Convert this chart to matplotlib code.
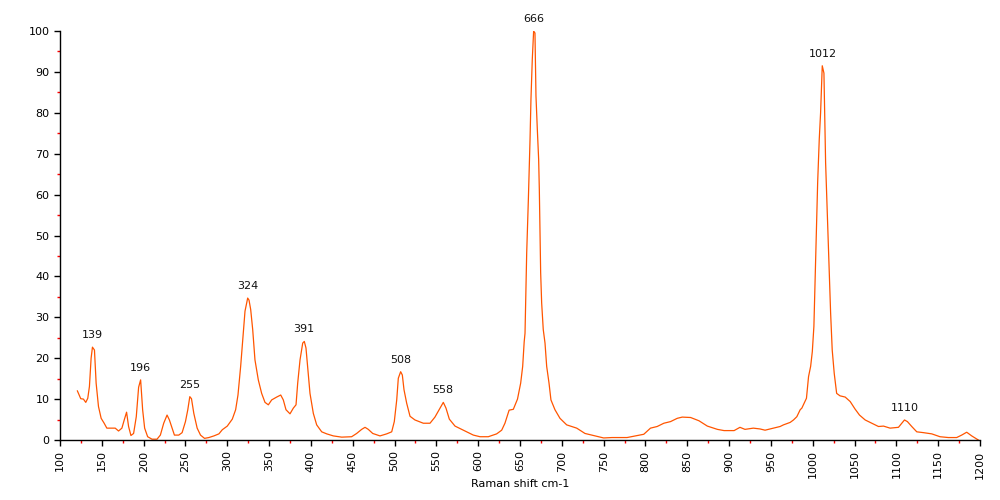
import matplotlib
matplotlib.use('Agg')
import matplotlib.pyplot as plt
import numpy as np
from matplotlib.ticker import MultipleLocator

# Raman spectrum (x: cm-1, y: normalised intensity)
shift = [120.8, 124.8, 128, 130.8, 133.2, 135.2, 137.2, 138.8, 141.2, 143.2,
         146, 149.2, 152.8, 156, 162, 166, 170, 174, 176.8, 179.6,
         182, 184.8, 188, 191.2, 194, 196.4, 198.8, 201.2, 204.8, 210,
         216, 220, 224, 228, 230.8, 234, 236.8, 242, 246, 250,
         252.8, 255.2, 257.2, 260, 264, 268, 272.8, 278, 284, 290,
         294, 300, 306, 310, 312.8, 316, 318.8, 321.2, 324.4, 326,
         328, 330.4, 333.1, 337.1, 341.1, 345.1, 349.1, 353.1, 359.1, 363.9,
         367, 370.2, 375, 379, 382.2, 384.2, 387, 390.2, 392.1, 394.1,
         396.1, 398.9, 402.9, 406.9, 412.9, 418.9, 426.8, 436.8, 448.7, 454.7,
         460.7, 464.7, 468.6, 473.9, 482.6, 490.6, 496.6, 499.7, 502.6, 504.5,
         507.3, 509.3, 511.3, 514.5, 518.5, 524.4, 534.4, 542.4, 548.3, 553.5,
         558.3, 561.5, 565.5, 572.3, 580.3, 588.2, 594.2, 602.2, 612.1, 622.1,
         628.1, 632, 637, 642, 647, 650.8, 653.2, 655, 656, 658,
         660, 662, 663.1, 664.7, 666.3, 667.9, 669.1, 670.7, 672.3, 673.1,
         673.9, 674.7, 675.9, 677.8, 679.9, 681.9, 684.7, 687, 691.8, 697.8,
         705.8, 717.8, 727.7, 739.6, 750, 760, 770, 778, 788, 798,
         806, 814, 822, 830, 838, 844, 854, 864, 874, 886,
         894, 906, 913, 919, 929, 937, 943, 953, 961, 965,
         973, 977, 981, 985, 987, 992.5, 995, 997.5, 999.5, 1001.4,
         1003, 1004.7, 1005.9, 1007.8, 1009.4, 1011.4, 1013.4, 1015.4, 1017.8, 1019.4,
         1021.4, 1023.3, 1025.7, 1028.6, 1032.6, 1038.8, 1042.5, 1044.8, 1050.5, 1055.9,
         1062.7, 1070.6, 1078.6, 1084.6, 1092.5, 1102.5, 1106.5, 1109.7, 1113.2, 1118.4,
         1124.4, 1132.3, 1142.3, 1152.2, 1162.2, 1172.1, 1178.1, 1184.1, 1190.1, 1198]
intensity = [12.0, 10.1, 10.0, 9.2, 10.2, 13.1, 20.0, 22.7, 22.0, 13.9,
             8.2, 5.3, 4.1, 2.9, 2.9, 2.9, 2.2, 2.9, 4.9, 6.8,
             3.3, 1.1, 1.6, 5.7, 12.9, 14.7, 7.4, 2.9, 0.8, 0.2,
             0.2, 1.2, 4.1, 6.1, 4.9, 2.9, 1.2, 1.2, 1.8, 4.5,
             7.4, 10.6, 10.1, 6.5, 2.9, 1.2, 0.4, 0.6, 1.0, 1.5,
             2.5, 3.4, 5.1, 7.4, 11.0, 18.0, 25.3, 31.5, 34.7, 34.2,
             31.9, 27.0, 19.6, 14.7, 11.4, 9.2, 8.6, 9.8, 10.5, 11.0,
             9.8, 7.4, 6.4, 7.8, 8.6, 13.9, 19.6, 23.7, 24.1, 22.5,
             18.0, 11.4, 6.5, 3.7, 2.0, 1.5, 1.0, 0.7, 0.8, 1.6,
             2.6, 3.1, 2.6, 1.6, 1.0, 1.5, 2.0, 4.5, 9.8, 15.1,
             16.7, 15.9, 12.3, 9.0, 5.8, 4.9, 4.1, 4.1, 5.6, 7.5,
             9.2, 7.8, 5.1, 3.4, 2.6, 1.8, 1.2, 0.8, 0.8, 1.5,
             2.4, 4.1, 7.3, 7.5, 10.0, 13.9, 18.0, 24.0, 26.1, 45.7,
             58.8, 73.5, 83.3, 93.1, 100.0, 99.5, 84.1, 76.0, 68.6, 61.3,
             51.5, 40.9, 33.5, 27.0, 23.7, 18.0, 13.9, 9.8, 7.4, 5.3,
             3.7, 2.9, 1.6, 1.0, 0.5, 0.6, 0.6, 0.6, 1.0, 1.4,
             2.9, 3.3, 4.1, 4.5, 5.3, 5.6, 5.5, 4.7, 3.4, 2.6,
             2.3, 2.3, 3.1, 2.6, 2.9, 2.7, 2.4, 2.9, 3.3, 3.7,
             4.3, 4.9, 5.7, 7.4, 7.8, 10.2, 15.5, 18.0, 21.6, 27.8,
             40.0, 53.0, 63.0, 73.5, 80.0, 91.5, 89.7, 67.8, 53.0, 43.3,
             31.0, 22.0, 16.3, 11.4, 10.8, 10.5, 9.8, 9.4, 7.6, 6.1,
             4.9, 4.1, 3.3, 3.4, 2.9, 3.1, 4.1, 4.9, 4.5, 3.3,
             2.0, 1.8, 1.5, 0.8, 0.6, 0.6, 1.2, 1.9, 1.0, 0.0]

# labelled peaks
peak_labels = [139, 196, 255, 324, 391, 508, 558, 666, 1012, 1110]

line_color = '#ff5500'

fig = plt.figure(figsize=(10, 5), dpi=100)
ax = fig.add_axes([0.06, 0.12, 0.92, 0.818])

x = np.array(shift)
y = np.array(intensity)
ax.plot(x, y, color=line_color, linewidth=0.9)

# peak labels just above the local maximum
for p in peak_labels:
    near = (x > p - 6) & (x < p + 6)
    top = y[near].max()
    ax.annotate(str(p), xy=(p, top), xytext=(0, 5), textcoords='offset points',
                ha='center', va='bottom', fontsize=8, color='#111111')

ax.set_xlim(100, 1200)
ax.set_ylim(0, 100)
ax.xaxis.set_major_locator(MultipleLocator(50))
ax.xaxis.set_minor_locator(MultipleLocator(25))
ax.yaxis.set_major_locator(MultipleLocator(10))
ax.yaxis.set_minor_locator(MultipleLocator(5))

ax.spines['top'].set_visible(False)
ax.spines['right'].set_visible(False)
ax.spines['left'].set_linewidth(1)
ax.spines['bottom'].set_linewidth(1)

ax.tick_params(axis='both', which='major', length=4, width=1, color='black',
               labelsize=8, direction='out')
ax.tick_params(axis='both', which='minor', length=2.5, width=1, color='red',
               direction='out')
ax.tick_params(axis='x', which='major', labelrotation=90)

ax.set_xlabel('Raman shift cm-1', fontsize=8, labelpad=0)

fig.savefig('out.png', dpi=100)
